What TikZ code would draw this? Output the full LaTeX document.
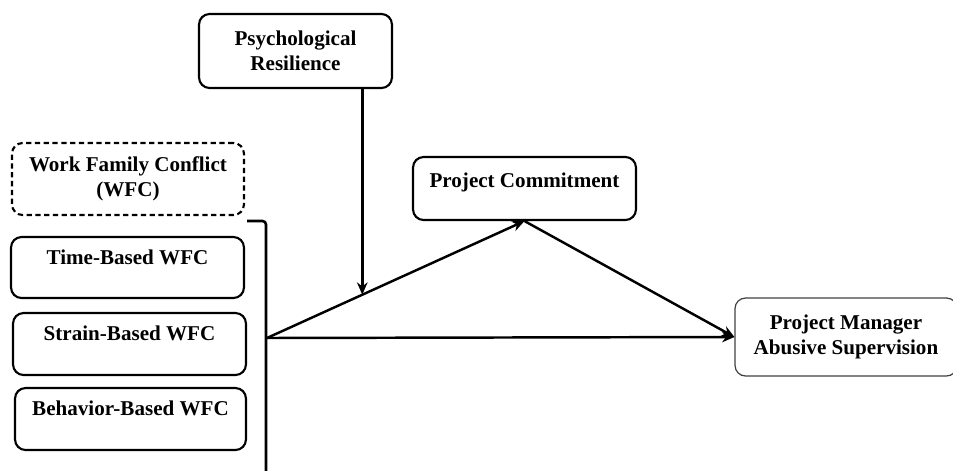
\documentclass[tikz,border=0pt]{standalone}
\usepackage{fontspec}
\setmainfont{Liberation Serif}
\usetikzlibrary{calc,arrows.meta}
\tikzset{%
  rbox/.style={draw,line width=1.2pt,rounded corners=6pt,align=center,font=\fontsize{12}{14}\selectfont\bfseries},
  dbox/.style={rbox,dash pattern=on 3pt off 2pt},
  gbox/.style={rbox,draw=black!75,line width=0.7pt},
  arr/.style={line width=1.4pt,-{Stealth[length=7pt,width=6pt]}},
  brk/.style={line width=1.5pt,rounded corners=2pt}
}
\begin{document}
\begin{tikzpicture}[x=0.02cm,y=-0.02cm]
    \useasboundingbox (0,0) rectangle (953,470);
    \path
      (295.5,51) node[rbox,minimum width=3.86cm,minimum height=1.48cm] (pr) {Psychological\\Resilience}
      (128,179) node[dbox,minimum width=4.64cm,minimum height=1.44cm] (wfc) {Work Family Conflict\\(WFC)}
      (127.5,267.5) node[rbox,minimum width=4.66cm,minimum height=1.22cm] (tb) {Time-Based WFC\\[-6pt]\strut}
      (129.5,344) node[rbox,minimum width=4.66cm,minimum height=1.24cm] (sb) {Strain-Based WFC\\[-6pt]\strut}
      (130.5,419) node[rbox,minimum width=4.62cm,minimum height=1.24cm] (bb) {Behavior-Based WFC\\[-6pt]\strut}
      (524.5,188.5) node[rbox,minimum width=4.46cm,minimum height=1.26cm] (pc) {Project Commitment\\[-9pt]\strut}
      (846,337) node[gbox,minimum width=4.44cm,minimum height=1.56cm] (pm) {Project Manager\\Abusive Supervision};
    \coordinate (bt) at (247,221);
    \coordinate (be) at (266,472);
    \coordinate (j) at (267,338);
    \coordinate (m) at ($(j)!0.37!(pc.south)$);
    \draw[brk] (bt) -| (be);
    \draw[arr] (j) -- (pc.south);
    \draw[arr] (pc.south) -- (pm.west);
    \draw[arr] (j) -- (pm.west);
    \draw[arr] (pr.south -| m) -- (m);
  \end{tikzpicture}
\end{document}
